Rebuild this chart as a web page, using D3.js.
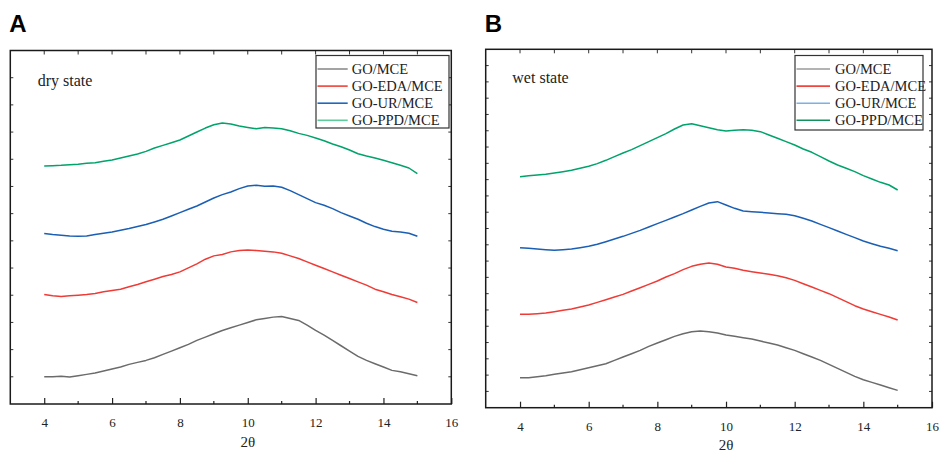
<!DOCTYPE html>
<html>
<head>
<meta charset="utf-8">
<script src="https://cdn.jsdelivr.net/npm/d3@7"></script>
<style>
  html, body { margin: 0; padding: 0; background: #fff; }
  svg { display: block; }
  text { font-family: "Liberation Serif", "Times New Roman", serif; fill: #222; }
  .panel-tag { font-family: "Liberation Sans", Arial, sans-serif; font-weight: bold; fill: #000; }
</style>
</head>
<body>
<svg id="chart" width="939" height="452"></svg>
<script>
// 2θ sample points (degrees)
const twoTheta = [4, 4.25, 4.5, 4.75, 5, 5.25, 5.5, 5.75, 6, 6.25, 6.5, 6.75, 7, 7.25, 7.5, 7.75,
  8, 8.25, 8.5, 8.75, 9, 9.25, 9.5, 9.75, 10, 10.25, 10.5, 10.75, 11, 11.25, 11.5, 11.75,
  12, 12.25, 12.5, 12.75, 13, 13.25, 13.5, 13.75, 14, 14.25, 14.5, 14.75, 15];

const seriesNames = ['GO/MCE', 'GO-EDA/MCE', 'GO-UR/MCE', 'GO-PPD/MCE'];
const xTickLabels = [4, 6, 8, 10, 12, 14, 16];

// dry state, stacked intensity (a.u.)
const dryGO = [82, 82, 83, 81, 85, 89, 93, 99, 105, 111, 119, 125, 131, 139, 149, 159,
  169, 179, 191, 201, 211, 221, 229, 237, 245, 253, 257, 261, 263, 257, 251, 237,
  221, 207, 191, 175, 159, 143, 131, 121, 111, 101, 97, 91, 85];
const dryEDA = [329, 325, 323, 325, 327, 329, 332, 337, 341, 345, 352, 359, 367, 375, 383, 389,
  397, 409, 421, 435, 445, 449, 457, 461, 463, 461, 459, 457, 453, 445, 437, 427,
  417, 407, 397, 387, 377, 367, 357, 345, 337, 329, 322, 315, 305];
const dryUR = [512, 509, 507, 505, 504, 505, 509, 513, 517, 522, 527, 533, 539, 547, 555, 565,
  575, 585, 595, 607, 619, 629, 637, 647, 655, 657, 654, 655, 651, 641, 629, 617,
  605, 597, 587, 575, 565, 555, 543, 533, 525, 519, 517, 513, 504];
const dryPPD = [715, 716, 717, 719, 720, 723, 725, 729, 733, 739, 745, 751, 759, 769, 777, 785,
  793, 805, 817, 829, 839, 844, 841, 835, 831, 827, 831, 829, 827, 821, 813, 807,
  799, 791, 781, 773, 763, 752, 745, 739, 732, 725, 717, 709, 692];

// wet state, stacked intensity (a.u.)
const wetGO = [90, 90, 93, 96, 100, 104, 108, 114, 120, 126, 132, 142, 152, 162, 172, 184,
  194, 204, 214, 222, 228, 230, 228, 224, 218, 214, 210, 206, 200, 194, 188, 180,
  172, 162, 152, 142, 130, 118, 106, 94, 84, 76, 68, 60, 52];
const wetEDA = [280, 280, 282, 284, 288, 292, 296, 302, 308, 316, 324, 332, 340, 350, 360, 370,
  380, 392, 402, 414, 424, 430, 434, 430, 422, 418, 412, 408, 404, 400, 396, 390,
  382, 372, 362, 352, 342, 330, 318, 306, 296, 288, 280, 272, 263];
const wetUR = [480, 478, 476, 474, 472, 474, 476, 480, 484, 490, 498, 506, 514, 523, 532, 542,
  552, 562, 572, 582, 593, 604, 614, 618, 608, 598, 590, 588, 586, 584, 582, 580,
  576, 568, 560, 550, 540, 530, 520, 510, 500, 492, 484, 478, 471];
const wetPPD = [693, 696, 698, 700, 704, 708, 712, 718, 724, 732, 742, 753, 764, 774, 786, 798,
  810, 822, 836, 848, 852, 846, 840, 834, 830, 832, 834, 832, 828, 818, 808, 798,
  788, 776, 766, 753, 740, 728, 718, 708, 696, 686, 676, 668, 653];

const lineColors = ['#6b6b6b', '#ef3b36', '#1a5fb4', '#00a36a'];

const svg = d3.select('#chart');

function drawPanel(p) {
    const g = svg.append('g');
    const x = d3.scaleLinear().domain([3, 16]).range([p.left, p.right]);
    const y = d3.scaleLinear().domain([0, p.yMax]).range([p.bottom, p.top]);
    const yStep = p.yMax / p.yDivs;
    const yTicks = d3.range(1, p.yDivs).map(i => i * yStep);

    // curves
    const line = d3.line().x((d, i) => x(twoTheta[i])).y(d => y(d));
    p.series.forEach((s, k) => {
        g.append('path').datum(s)
            .attr('fill', 'none')
            .attr('stroke', lineColors[k])
            .attr('stroke-width', 1.5)
            .attr('stroke-linejoin', 'round')
            .attr('d', line);
    });

    // bottom axis: major ticks inward, minor at odd values
    const bottom = d3.axisBottom(x).tickValues(xTickLabels)
        .tickSizeInner(-6).tickSizeOuter(0).tickPadding(14).tickFormat(d3.format('d'));
    const gb = g.append('g').attr('transform', `translate(0,${p.bottom})`).call(bottom);
    gb.select('.domain').remove();
    gb.selectAll('line').attr('stroke', '#222').attr('stroke-width', 1.2);
    gb.selectAll('text').attr('font-size', 13).attr('fill', '#333')
        .attr('font-family', '"Liberation Serif", serif');
    [5, 7, 9, 11, 13, 15].forEach(v => {
        g.append('line').attr('x1', x(v)).attr('x2', x(v))
            .attr('y1', p.bottom).attr('y2', p.bottom - 3)
            .attr('stroke', '#222').attr('stroke-width', 1.2);
    });

    // mirrored ticks on top, left and right
    d3.range(4, 16).forEach(v => {
        g.append('line').attr('x1', x(v)).attr('x2', x(v))
            .attr('y1', p.top).attr('y2', p.top + 4)
            .attr('stroke', '#333').attr('stroke-width', 1);
    });
    yTicks.forEach(v => {
        g.append('line').attr('x1', p.left).attr('x2', p.left + 3)
            .attr('y1', y(v)).attr('y2', y(v)).attr('stroke', '#333').attr('stroke-width', 1);
        g.append('line').attr('x1', p.right).attr('x2', p.right - 3)
            .attr('y1', y(v)).attr('y2', y(v)).attr('stroke', '#333').attr('stroke-width', 1);
    });

    // frame
    g.append('rect')
        .attr('x', p.left).attr('y', p.top)
        .attr('width', p.right - p.left).attr('height', p.bottom - p.top)
        .attr('fill', 'none').attr('stroke', '#1a1a1a').attr('stroke-width', 1.5);

    // x title
    g.append('text').attr('x', x(10)).attr('y', p.titleY)
        .attr('text-anchor', 'middle').attr('font-size', 15).attr('fill', '#333')
        .text('2θ');

    // panel tag and state label
    g.append('text').attr('class', 'panel-tag')
        .attr('x', p.left - 1).attr('y', 31.5).attr('font-size', 24).text(p.tag);
    g.append('text').attr('x', p.stateX).attr('y', p.stateY)
        .attr('font-size', 16).attr('fill', '#222').text(p.state);

    // legend
    const L = p.legend;
    g.append('rect').attr('x', L.x0).attr('y', L.y0)
        .attr('width', L.x1 - L.x0).attr('height', L.y1 - L.y0)
        .attr('fill', '#fff').attr('stroke', '#333').attr('stroke-width', 1.2);
    seriesNames.forEach((name, k) => {
        const ry = L.y0 + 13.5 + k * 17.1;
        g.append('line').attr('x1', L.x0 + 1.5).attr('x2', L.lineEnd)
            .attr('y1', ry).attr('y2', ry)
            .attr('stroke', L.colors[k]).attr('stroke-width', 1.6);
        g.append('text').attr('x', L.textX).attr('y', ry + 5)
            .attr('font-size', 14.5).attr('fill', '#222').text(name);
    });
}

drawPanel({
    tag: 'A', state: 'dry state', stateX: 37.7, stateY: 86,
    left: 10.3, right: 451.3, top: 50.5, bottom: 404, titleY: 447,
    yMax: 1062, yDivs: 13,
    series: [dryGO, dryEDA, dryUR, dryPPD],
    legend: { x0: 316, x1: 449, y0: 55.5, y1: 128, lineEnd: 347.7, textX: 351.7,
        colors: ['#8c8c8c', '#ef4136', '#1f67c0', '#5fcb9c'] }
});

drawPanel({
    tag: 'B', state: 'wet state', stateX: 512.3, stateY: 83,
    left: 485.7, right: 932, top: 49.3, bottom: 407.7, titleY: 449.5,
    yMax: 1075, yDivs: 22,
    series: [wetGO, wetEDA, wetUR, wetPPD],
    legend: { x0: 795, x1: 923, y0: 55.5, y1: 130, lineEnd: 830, textX: 835,
        colors: ['#9a9a9a', '#f2453d', '#7fb0e2', '#12925a'] }
});
</script>
</body>
</html>
